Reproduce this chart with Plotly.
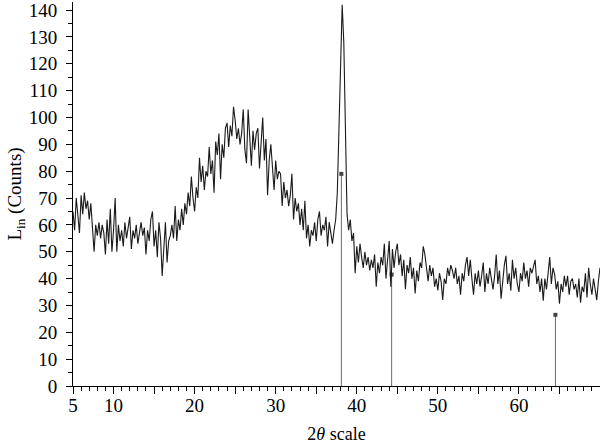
import plotly.graph_objects as go

# Scan: 2-theta from 5.0 deg in 0.2 deg steps
scan_start = 5.0
scan_step = 0.2
counts = [
    65, 58, 70, 62, 57,
    71, 64, 72, 66, 69,
    62, 68, 57, 50, 60,
    56, 61, 55, 60, 57,
    49, 62, 53, 66, 50,
    58, 70, 50, 60, 54,
    58, 52, 61, 55, 59,
    63, 51, 58, 55, 60,
    53, 57, 61, 56, 59,
    49, 58, 54, 62, 65,
    52, 58, 48, 61, 55,
    41, 52, 61, 46, 54,
    56, 60, 55, 67, 54,
    62, 58, 66, 60, 68,
    64, 72, 67, 78, 70,
    65, 74, 70, 85, 76,
    82, 73, 80, 78, 89,
    79, 84, 72, 91, 86,
    94, 77, 90, 85, 96,
    98, 89, 97, 93, 104,
    99, 92, 96, 90, 94,
    103, 88, 83, 103, 91,
    82, 95, 88, 94, 96,
    81, 90, 100, 84, 92,
    71, 84, 90, 80, 73,
    84, 77, 80, 79, 67,
    76, 70, 73, 67, 71,
    79, 62, 70, 65, 68,
    60, 66, 58, 69, 55,
    60, 52, 58, 56, 61,
    54, 62, 65, 56, 60,
    58, 63, 52, 61, 57,
    53, 58, 62, 72, 95,
    122, 142, 128, 100, 64,
    58, 62, 54, 57, 42,
    52, 46, 53, 48, 44,
    50, 45, 48, 43, 47,
    44, 49, 37, 46, 42,
    48, 45, 53, 40, 47,
    54, 37, 51, 44, 50,
    53, 45, 49, 41, 47,
    36, 45, 42, 48, 40,
    44, 34.5, 43, 39, 46,
    44, 52, 49, 44, 39,
    45, 41, 44, 37, 40,
    35.6, 42, 39, 32, 40,
    38, 44, 41, 45, 43,
    40, 44, 38, 41, 34,
    42, 39, 45, 48, 41,
    47, 40, 34, 42, 38,
    43, 37, 41, 46, 35,
    42, 38, 44, 40, 36,
    41, 49, 38, 43, 32.5,
    40, 45, 48.5, 38, 42,
    35.5, 47, 40, 44, 38,
    35, 42, 39, 46, 40,
    43, 37, 44, 42, 45,
    47, 38, 41, 35, 40,
    31.8, 40, 36, 43, 48,
    38, 44, 41.7, 36, 39,
    30.6, 38, 35, 41, 37,
    41, 34, 39, 40, 36,
    38, 33, 40, 31, 37,
    35, 42, 33, 44, 38,
    34, 40, 36, 32, 39,
    44,
]
two_theta = [round(scan_start + i * scan_step, 2) for i in range(len(counts))]

# Reference pattern stems
ref_positions = [38.1, 44.3, 64.5]
ref_intensities = [79, 41.5, 26.5]

x_label_vals = [5, 10, 20, 30, 40, 50, 60]
x_long_tick_vals = [5, 10, 15, 20, 25, 30, 35, 40, 45, 50, 55, 60, 65]
y_tick_vals = [0, 10, 20, 30, 40, 50, 60, 70, 80, 90, 100, 110, 120, 130, 140]

FONT = "Liberation Serif"
X_RANGE = [5, 70]
Y_RANGE = [0, 143]

stem_x, stem_y = [], []
for p, h in zip(ref_positions, ref_intensities):
    stem_x += [p, p, None]
    stem_y += [0, h, None]

fig = go.Figure()
fig.add_trace(go.Scatter(x=stem_x, y=stem_y, mode="lines",
                         line=dict(color="#6a6a6a", width=1), hoverinfo="skip"))
fig.add_trace(go.Scatter(x=ref_positions, y=ref_intensities, mode="markers",
                         marker=dict(symbol="square", size=4, color="#444444")))
fig.add_trace(go.Scatter(x=two_theta, y=counts, mode="lines",
                         line=dict(color="#1a1a1a", width=1.1)))

fig.update_layout(
    width=600, height=446,
    margin=dict(l=73, r=0, t=2, b=60),
    paper_bgcolor="white", plot_bgcolor="white",
    showlegend=False,
    font=dict(family=FONT, size=19, color="black"),
    xaxis=dict(
        range=X_RANGE, showgrid=False, zeroline=False, automargin=False,
        showline=True, linecolor="black", linewidth=1,
        tickmode="array", tickvals=x_label_vals,
        ticks="outside", ticklen=7, tickwidth=1, tickcolor="black",
        ticklabelstandoff=-5,
        minor=dict(dtick=1, ticks="outside", ticklen=4, tickcolor="black", tickwidth=1, showgrid=False),
        tickfont=dict(family=FONT, size=19),
        title=dict(text="2<i>θ</i> scale", font=dict(family=FONT, size=18), standoff=12),
    ),
    xaxis2=dict(
        range=X_RANGE, overlaying="x", side="bottom", anchor="y",
        showgrid=False, zeroline=False, showline=False, automargin=False,
        tickmode="array", tickvals=x_long_tick_vals, showticklabels=False,
        ticks="outside", ticklen=7, tickwidth=1, tickcolor="black",
    ),
    yaxis=dict(
        range=Y_RANGE, showgrid=False, zeroline=False, automargin=False,
        showline=True, linecolor="black", linewidth=1,
        tickmode="array", tickvals=y_tick_vals,
        ticks="outside", ticklen=6, tickwidth=1, tickcolor="black",
        ticklabelstandoff=5, ticklabeloverflow="allow",
        minor=dict(dtick=5, ticks="outside", ticklen=4, tickcolor="black", tickwidth=1, showgrid=False),
        tickfont=dict(family=FONT, size=19),
        title=dict(text="L<sub>in</sub> (Counts)", font=dict(family=FONT, size=19), standoff=2),
    ),
)
# invisible trace to activate the secondary x axis (long ticks every 5)
fig.add_trace(go.Scatter(x=[X_RANGE[0]], y=[Y_RANGE[0]], xaxis="x2", mode="markers",
                         marker=dict(opacity=0), hoverinfo="skip"))

fig.write_html("out.html", config={"displayModeBar": False},
               post_script="document.body.style.margin='0';")
